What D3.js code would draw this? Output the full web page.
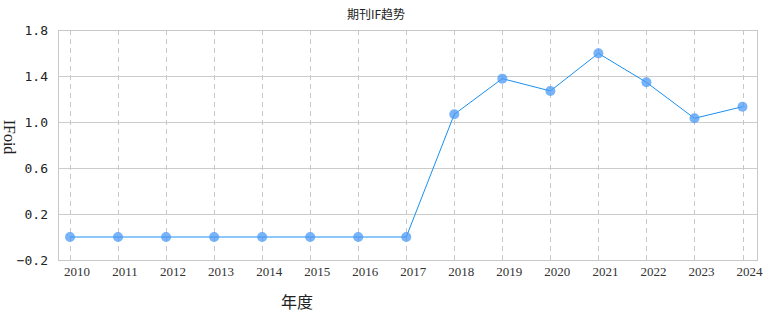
<!DOCTYPE html>
<html>
<head>
<meta charset="utf-8">
<script src="https://cdn.jsdelivr.net/npm/d3@7"></script>
<style>
  body { margin: 0; background: #fff; }
  svg { display: block; }
</style>
</head>
<body>
<div id="chart"></div>
<script>
// data
var years = ["2010","2011","2012","2013","2014","2015","2016","2017","2018","2019","2020","2021","2022","2023","2024"];
var ifValues = [0, 0, 0, 0, 0, 0, 0, 0, 1.067, 1.377, 1.27, 1.597, 1.345, 1.032, 1.133];
var yTicks = [-0.2, 0.2, 0.6, 1.0, 1.4, 1.8];

var width = 782, height = 330;
var margin = {top: 30, right: 25, bottom: 70, left: 58};

var svg = d3.select("#chart").append("svg")
  .attr("width", width)
  .attr("height", height);

var x = d3.scalePoint()
  .domain(years)
  .range([70, 742.5]);

var y = d3.scaleLinear()
  .domain([-0.2, 1.8])
  .range([height - margin.bottom, margin.top]);

var plotRight = width - margin.right;
var plotBottom = height - margin.bottom;

// horizontal grid
svg.append("g")
  .selectAll("line")
  .data(yTicks)
  .enter().append("line")
  .attr("x1", margin.left).attr("x2", plotRight)
  .attr("y1", function(d){ return y(d) + 0.5; })
  .attr("y2", function(d){ return y(d) + 0.5; })
  .attr("stroke", "#cccccc").attr("stroke-width", 1);

// vertical dashed grid
svg.append("g")
  .selectAll("line")
  .data(years)
  .enter().append("line")
  .attr("x1", function(d){ return Math.round(x(d)) + 0.5; })
  .attr("x2", function(d){ return Math.round(x(d)) + 0.5; })
  .attr("y1", margin.top).attr("y2", plotBottom)
  .attr("stroke", "#c8c8c8").attr("stroke-width", 1)
  .attr("stroke-dasharray", "5,4");

// frame
svg.append("rect")
  .attr("x", margin.left + 0.5).attr("y", margin.top + 0.5)
  .attr("width", plotRight - margin.left).attr("height", plotBottom - margin.top)
  .attr("fill", "none").attr("stroke", "#c8c8c8").attr("stroke-width", 1);

// y tick labels
svg.append("g")
  .selectAll("text")
  .data(yTicks)
  .enter().append("text")
  .attr("x", 48).attr("y", function(d){ return y(d) + 5; })
  .attr("text-anchor", "end")
  .style("font-family", "'DejaVu Sans Mono', monospace")
  .style("font-size", "13px")
  .attr("fill", "#222")
  .text(function(d){ return d.toFixed(1).replace("-", "\u2212"); });

// x tick labels
svg.append("g")
  .selectAll("text")
  .data(years)
  .enter().append("text")
  .attr("x", function(d){ return x(d) + 7; })
  .attr("y", plotBottom + 16)
  .attr("text-anchor", "middle")
  .style("font-family", "'Liberation Serif', 'Times New Roman', serif")
  .style("font-size", "13px")
  .attr("fill", "#333")
  .text(function(d){ return d; });

// line
var line = d3.line()
  .x(function(d, i){ return x(years[i]); })
  .y(function(d){ return y(d); });

svg.append("path")
  .datum(ifValues)
  .attr("fill", "none")
  .attr("stroke", "#1a90f0")
  .attr("stroke-width", 1)
  .attr("d", line);

svg.append("g")
  .selectAll("circle")
  .data(ifValues)
  .enter().append("circle")
  .attr("cx", function(d, i){ return x(years[i]); })
  .attr("cy", function(d){ return y(d); })
  .attr("r", 5)
  .attr("fill", "#4c9af5")
  .attr("fill-opacity", 0.75);

// title
svg.append("text")
  .attr("x", 376).attr("y", 19)
  .attr("text-anchor", "middle")
  .style("font-family", "'Noto Sans CJK SC', serif")
  .style("font-size", "12px")
  .attr("fill", "#222")
  .text("期刊IF趋势");

// axis titles
svg.append("text")
  .attr("transform", "translate(4,137) rotate(90)")
  .attr("text-anchor", "middle")
  .style("font-family", "'Liberation Serif', serif")
  .style("font-size", "16px")
  .attr("fill", "#222")
  .text("IFoid");

svg.append("text")
  .attr("x", 297).attr("y", 308)
  .attr("text-anchor", "middle")
  .style("font-family", "'Noto Sans CJK SC', serif")
  .style("font-size", "16px")
  .attr("fill", "#222")
  .text("年度");
</script>
</body>
</html>
